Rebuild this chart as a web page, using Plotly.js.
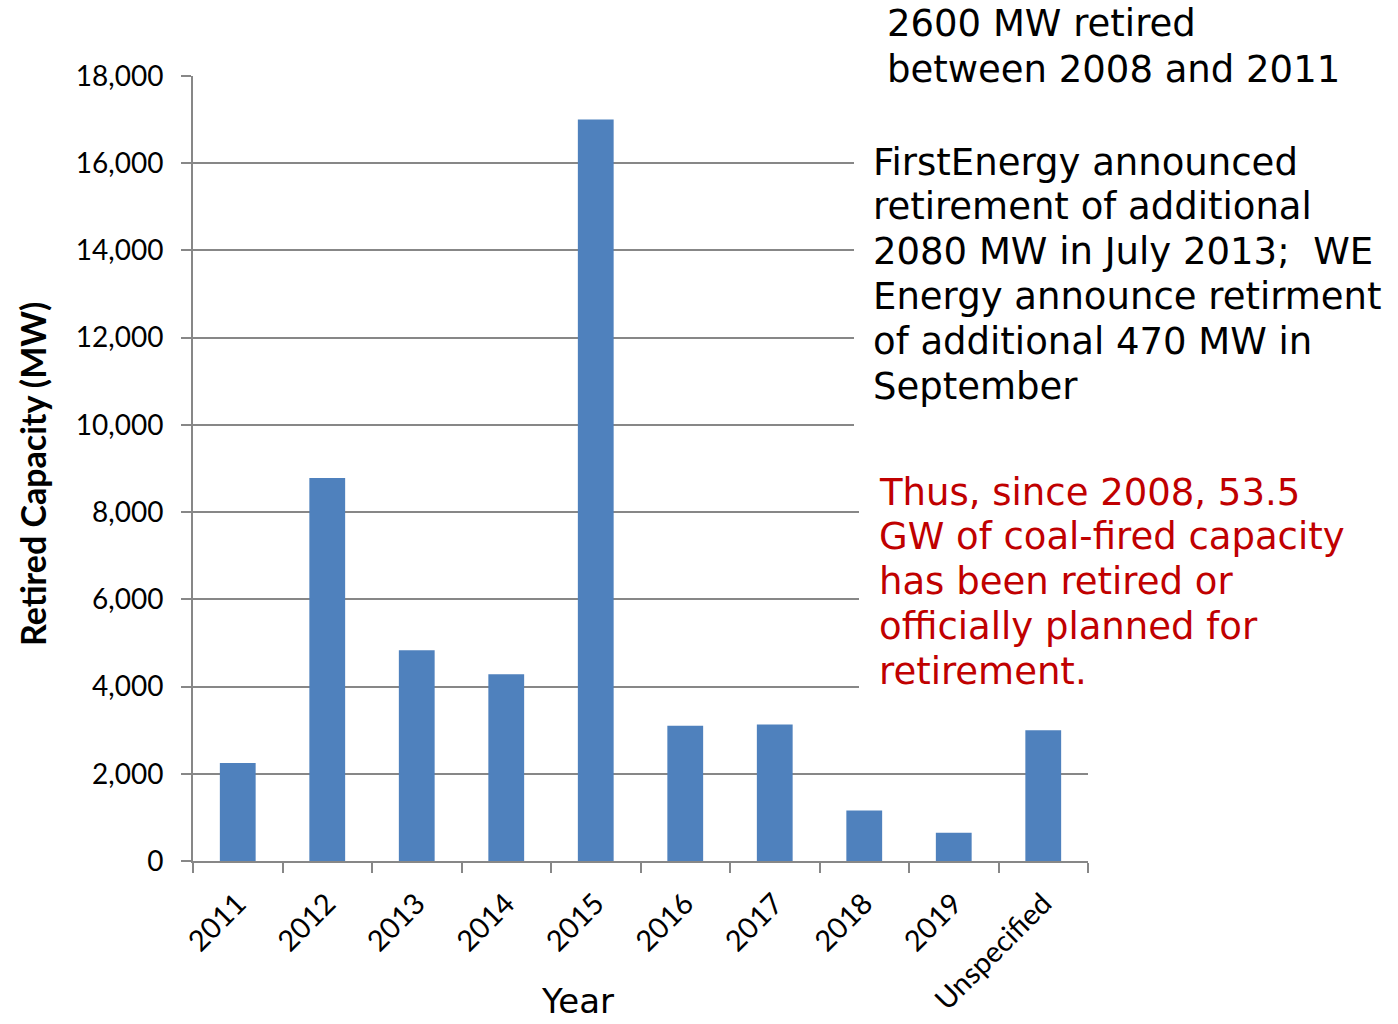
<!DOCTYPE html>
<html>
<head>
<meta charset="utf-8">
<script src="https://cdn.plot.ly/plotly-3.0.1.min.js"></script>
<style>
  html, body { margin: 0; padding: 0; background: #ffffff; }
  #chart { width: 1398px; height: 1024px; }
</style>
</head>
<body>
<div id="chart"></div>
<script>
// Retired coal-fired capacity by year (MW)
const years = ["2011", "2012", "2013", "2014", "2015", "2016", "2017", "2018", "2019", "Unspecified"];
const retiredMW = [2250, 8780, 4830, 4280, 17000, 3100, 3130, 1160, 650, 3000];

// Side notes
const noteRetired = ["2600 MW retired", "between 2008 and 2011"];
const noteAnnounced = [
  "FirstEnergy announced",
  "retirement of additional",
  "2080 MW in July 2013;  WE",
  "Energy announce retirment",
  "of additional 470 MW in",
  "September"
];
const noteSummary = [
  "Thus, since 2008, 53.5",
  "GW of coal-fired capacity",
  "has been retired or",
  "officially planned for",
  "retirement."
];

const W = 1398, H = 1024;
const M = { l: 193, r: 310, t: 76, b: 163 };
const plotW = W - M.l - M.r, plotH = H - M.t - M.b;
const px = x => (x - M.l) / plotW;          // page x -> paper x
const py = y => (H - M.b - y) / plotH;      // page y -> paper y

const noteFont = { family: "DejaVu Sans, Verdana, sans-serif", size: 37, color: "#000000" };
const redFont = Object.assign({}, noteFont, { color: "#C00000" });

function noteLines(lines, left, firstY, step, font) {
  return lines.map((t, i) => ({
    text: t, xref: "paper", yref: "paper",
    x: px(left), y: py(firstY + i * step),
    xanchor: "left", yanchor: "middle",
    showarrow: false, font: font
  }));
}

const annotations = [
  ...noteLines(noteRetired, 885, 23, 46, noteFont),
  ...noteLines(noteAnnounced, 871, 162, 44.8, noteFont),
  ...noteLines(noteSummary, 877, 492, 44.8, redFont),
  {
    text: "<b>Retired Capacity (MW)</b>", xref: "paper", yref: "paper",
    x: px(32), y: py(474), xanchor: "center", yanchor: "middle",
    textangle: -90, showarrow: false,
    font: { family: "Lato, Carlito, Calibri, sans-serif", size: 34, color: "#000000" }
  },
  {
    text: "Year", xref: "paper", yref: "paper",
    x: px(577), y: py(1001), xanchor: "center", yanchor: "middle",
    showarrow: false,
    font: { family: "DejaVu Sans, Verdana, sans-serif", size: 34, color: "#000000" }
  }
];

// White backing behind the note blocks
const blank = (x0, y0, x1, y1) => ({
  type: "rect", xref: "paper", yref: "paper", layer: "above",
  x0: px(x0), x1: px(x1), y0: py(y1), y1: py(y0),
  fillcolor: "#ffffff", line: { width: 0 }
});

const shapes = [
  blank(867, 0, 1398, 110),
  blank(854, 135, 1398, 445),
  blank(859, 462, 1398, 705)
];

const trace = {
  type: "bar",
  x: years,
  y: retiredMW,
  width: 0.4,
  marker: { color: "#4F81BD", line: { width: 0 } },
  hoverinfo: "x+y"
};

const axisGray = "#878787";
const tickFont = { family: "Lato, Carlito, Calibri, sans-serif", size: 28, color: "#000000" };

const layout = {
  width: W, height: H,
  margin: M,
  paper_bgcolor: "#ffffff",
  plot_bgcolor: "#ffffff",
  showlegend: false,
  xaxis: {
    type: "category",
    range: [-0.5, 9.5],
    showline: true, linecolor: axisGray, linewidth: 2,
    ticks: "outside", tickson: "boundaries", ticklen: 10, tickwidth: 2, tickcolor: axisGray,
    tickangle: -45,
    ticklabelstandoff: 12,
    tickfont: { family: tickFont.family, size: 29, color: "#000000" },
    showgrid: false, zeroline: false
  },
  yaxis: {
    range: [0, 18000],
    dtick: 2000,
    tickformat: ",d",
    showline: true, linecolor: axisGray, linewidth: 2,
    ticks: "outside", ticklen: 10, tickwidth: 2, tickcolor: axisGray,
    ticklabelstandoff: 12,
    tickfont: tickFont,
    showgrid: true, gridcolor: axisGray, gridwidth: 2,
    zeroline: false
  },
  annotations: annotations,
  shapes: shapes
};

Plotly.newPlot("chart", [trace], layout, { displayModeBar: false, staticPlot: true });
</script>
</body>
</html>
